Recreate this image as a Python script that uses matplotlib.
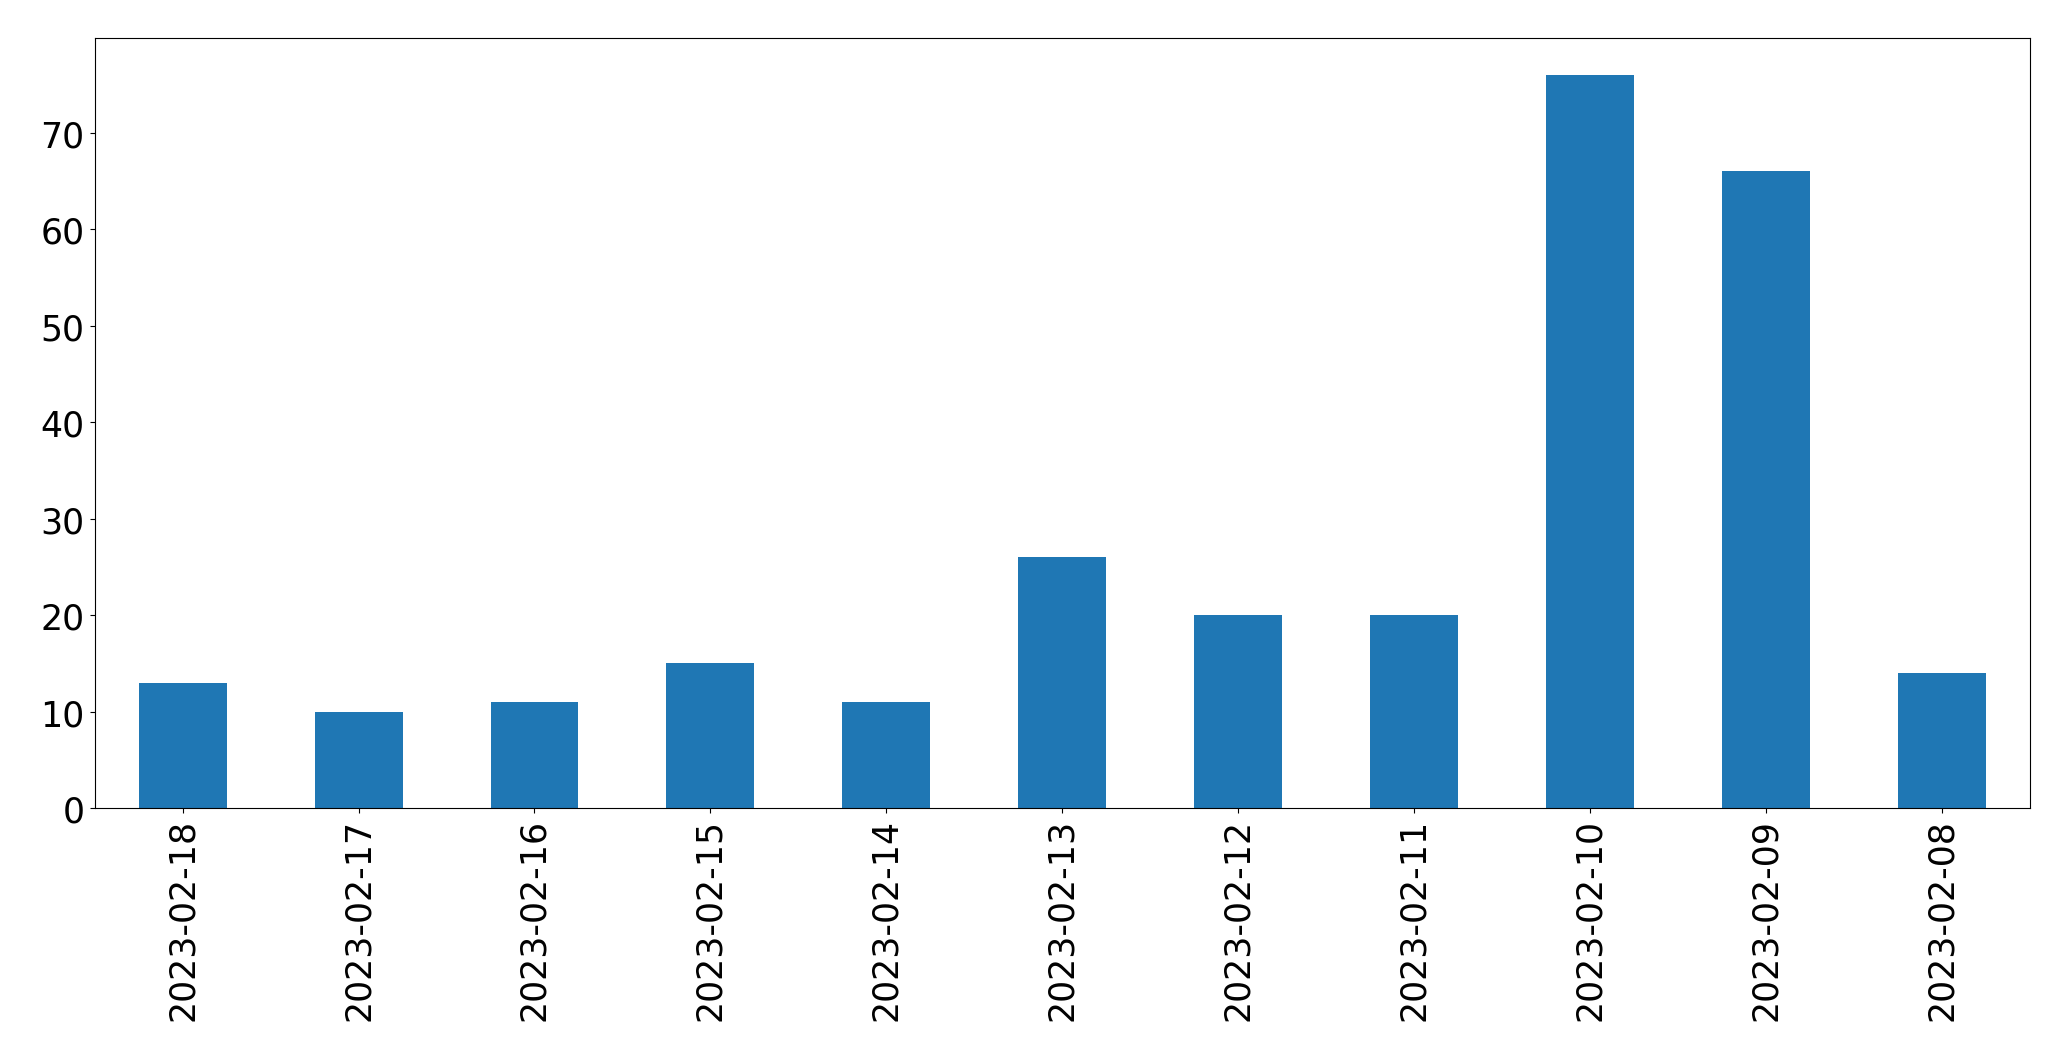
import numpy as np
import matplotlib.pyplot as plt

# Daily counts, newest first (as in the original chart)
dates = ['2023-02-18', '2023-02-17', '2023-02-16', '2023-02-15', '2023-02-14', '2023-02-13',
         '2023-02-12', '2023-02-11', '2023-02-10', '2023-02-09', '2023-02-08']
counts = [13, 10, 11, 15, 11, 26, 20, 20, 76, 66, 14]

fig = plt.figure(figsize=(20.71, 10.6095), dpi=100)
ax = fig.add_axes([0.0457, 0.2375, 0.9345, 0.7255])

x = np.arange(len(dates))
ax.bar(x, counts, width=0.5, color='#1f77b4')
ax.set_xlim(-0.5, len(dates) - 0.5)
ax.set_ylim(0, max(counts) * 1.05)
ax.set_xticks(x)
ax.set_xticklabels(dates, rotation=90)
ax.set_yticks(np.arange(0, 71, 10))
ax.tick_params(labelsize=25, length=3.8)

fig.savefig('out.png', dpi=100)
